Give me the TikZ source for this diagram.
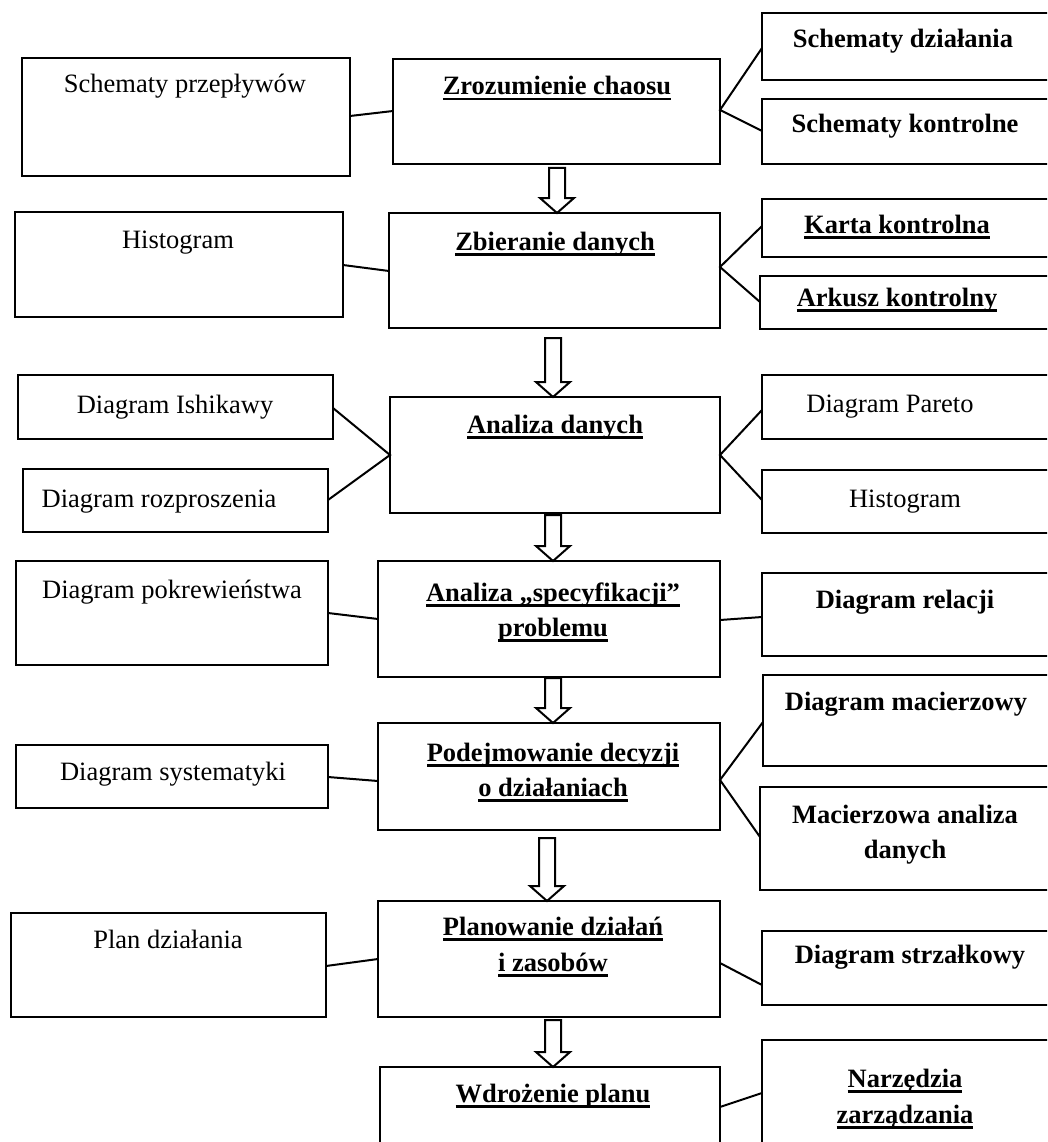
\documentclass[tikz,border=0pt]{standalone}
\usepackage{fontspec}
\setmainfont{Liberation Serif}
\usetikzlibrary{calc,fit}

% bold underline with a thick rule under the whole line
\newcommand{\ulline}[1]{\setbox0\hbox{#1}\leavevmode\rlap{\rule[-5.5pt]{\wd0}{2.4pt}}\box0}

% hollow block arrow: #1 x position, #2 upper node, #3 lower node, #4 gap below the upper node
\newcommand{\flowarrow}[4]{%
  \coordinate (fa-top) at (#1,0 |- #2.south);
  \coordinate (fa-tip) at (#1,0 |- #3.north);
  \draw[flowarr] ($(fa-top)+(-8,#4)$) -- ($(fa-top)+(8,#4)$)
    -- ($(fa-tip)+(8,-15)$) -- ($(fa-tip)+(17,-15)$) -- (fa-tip)
    -- ($(fa-tip)+(-17,-15)$) -- ($(fa-tip)+(-8,-15)$) -- cycle;
}

\begin{document}
\begin{tikzpicture}[x=1pt,y=-1pt,
  box/.style={draw, line width=2pt, inner sep=0pt, outer sep=0pt},
  txt/.style={anchor=base, inner sep=0pt, font=\fontsize{26.5}{32}\selectfont},
  btxt/.style={txt, font=\fontsize{26.5}{32}\selectfont\bfseries},
  link/.style={line width=2pt},
  flowarr/.style={draw, line width=2pt, fill=white, line join=miter}]

\useasboundingbox (0,0) rectangle (1047,1142);
\clip (0,0) rectangle (1047,1142);
\fill[white] (0,0) rectangle (1047,1142);

% ---- boxes ----
\node[box, fit={(22,58) (350,176)}] (prz) {};
\node[box, fit={(393,59) (720,164)}] (zro) {};
\node[box, fit={(762,13) (1065,80)}] (sdz) {};
\node[box, fit={(762,99) (1065,164)}] (sko) {};

\node[box, fit={(15,212) (343,317)}] (hi1) {};
\node[box, fit={(389,213) (720,328)}] (zbi) {};
\node[box, fit={(762,199) (1065,257)}] (kar) {};
\node[box, fit={(760,276) (1065,329)}] (ark) {};

\node[box, fit={(18,375) (333,439)}] (ish) {};
\node[box, fit={(23,469) (328,532)}] (roz) {};
\node[box, fit={(390,397) (720,513)}] (ana) {};
\node[box, fit={(762,375) (1065,439)}] (par) {};
\node[box, fit={(762,470) (1065,533)}] (hi2) {};

\node[box, fit={(16,561) (328,665)}] (pok) {};
\node[box, fit={(378,561) (720,677)}] (spe) {};
\node[box, fit={(762,573) (1065,656)}] (rel) {};

\node[box, fit={(16,745) (328,808)}] (sys) {};
\node[box, fit={(378,723) (720,830)}] (pod) {};
\node[box, fit={(763,675) (1065,766)}] (mac) {};
\node[box, fit={(760,787) (1065,890)}] (man) {};

\node[box, fit={(11,913) (326,1017)}] (pla) {};
\node[box, fit={(378,901) (720,1017)}] (pln) {};
\node[box, fit={(762,931) (1065,1005)}] (str) {};

\node[box, fit={(380,1067) (720,1165)}] (wdr) {};
\node[box, fit={(762,1040) (1065,1165)}] (nar) {};

% ---- labels ----
\node[txt]  (prz-t) at (185,93)  {Schematy przepływów};
\node[btxt] (zro-t) at (557,95)  {\ulline{Zrozumienie chaosu}};
\node[btxt] (sdz-t) at (903,48)  {Schematy działania};
\node[btxt] (sko-t) at (905,133) {Schematy kontrolne};

\node[txt]  (hi1-t) at (178,248) {Histogram};
\node[btxt] (zbi-t) at (555,250) {\ulline{Zbieranie danych}};
\node[btxt] (kar-t) at (897,233) {\ulline{Karta kontrolna}};
\node[btxt] (ark-t) at (897,306) {\ulline{Arkusz kontrolny}};

\node[txt]  (ish-t) at (175,413) {Diagram Ishikawy};
\node[txt]  (roz-t) at (159,507) {Diagram rozproszenia};
\node[btxt] (ana-t) at (555,433) {\ulline{Analiza danych}};
\node[txt]  (par-t) at (890,412) {Diagram Pareto};
\node[txt]  (hi2-t) at (905,507) {Histogram};

\node[txt]  (pok-t)  at (172,598) {Diagram pokrewieństwa};
\node[btxt] (spe-t1) at (553,601) {\ulline{Analiza „specyfikacji”}};
\node[btxt] (spe-t2) at (553,636) {\ulline{problemu}};
\node[btxt] (rel-t)  at (905,608) {Diagram relacji};

\node[txt]  (sys-t)  at (173,780) {Diagram systematyki};
\node[btxt] (pod-t1) at (553,761) {\ulline{Podejmowanie decyzji}};
\node[btxt] (pod-t2) at (553,796) {\ulline{o działaniach}};
\node[btxt] (mac-t)  at (906,710) {Diagram macierzowy};
\node[btxt] (man-t1) at (905,823) {Macierzowa analiza};
\node[btxt] (man-t2) at (905,858) {danych};

\node[txt]  (pla-t)  at (168,948) {Plan działania};
\node[btxt] (pln-t1) at (553,935) {\ulline{Planowanie działań}};
\node[btxt] (pln-t2) at (553,971) {\ulline{i zasobów}};
\node[btxt] (str-t)  at (910,963) {Diagram strzałkowy};

\node[btxt] (wdr-t)  at (553,1102) {\ulline{Wdrożenie planu}};
\node[btxt] (nar-t1) at (905,1087) {\ulline{Narzędzia}};
\node[btxt] (nar-t2) at (905,1123) {\ulline{zarządzania}};

% ---- side connectors ----
\draw[link] (prz.east |- 0,116) -- (zro.west |- 0,111);
\draw[link] (sdz.west |- 0,48) -- (zro.east |- 0,110) -- (sko.west |- 0,131);

\draw[link] (hi1.east |- 0,265) -- (zbi.west |- 0,271);
\draw[link] (kar.west |- 0,226) -- (zbi.east |- 0,267) -- (ark.west |- 0,302);

\draw[link] (ish.east |- 0,408) -- (ana.west |- 0,455) -- (roz.east |- 0,500);
\draw[link] (par.west |- 0,410) -- (ana.east |- 0,455) -- (hi2.west |- 0,500);

\draw[link] (pok.east |- 0,613) -- (spe.west |- 0,619);
\draw[link] (spe.east |- 0,620) -- (rel.west |- 0,617);

\draw[link] (sys.east |- 0,777) -- (pod.west |- 0,781);
\draw[link] (mac.west |- 0,722) -- (pod.east |- 0,780) -- (man.west |- 0,837);

\draw[link] (pla.east |- 0,966) -- (pln.west |- 0,959);
\draw[link] (pln.east |- 0,963) -- (str.west |- 0,985);

\draw[link] (wdr.east |- 0,1107) -- (nar.west |- 0,1093);

% ---- flow arrows between the main steps ----
\flowarrow{557}{zro}{zbi}{4}
\flowarrow{553}{zbi}{ana}{10}
\flowarrow{553}{ana}{spe}{2}
\flowarrow{553}{spe}{pod}{1}
\flowarrow{547}{pod}{pln}{8}
\flowarrow{553}{pln}{wdr}{3}

\end{tikzpicture}
\end{document}
